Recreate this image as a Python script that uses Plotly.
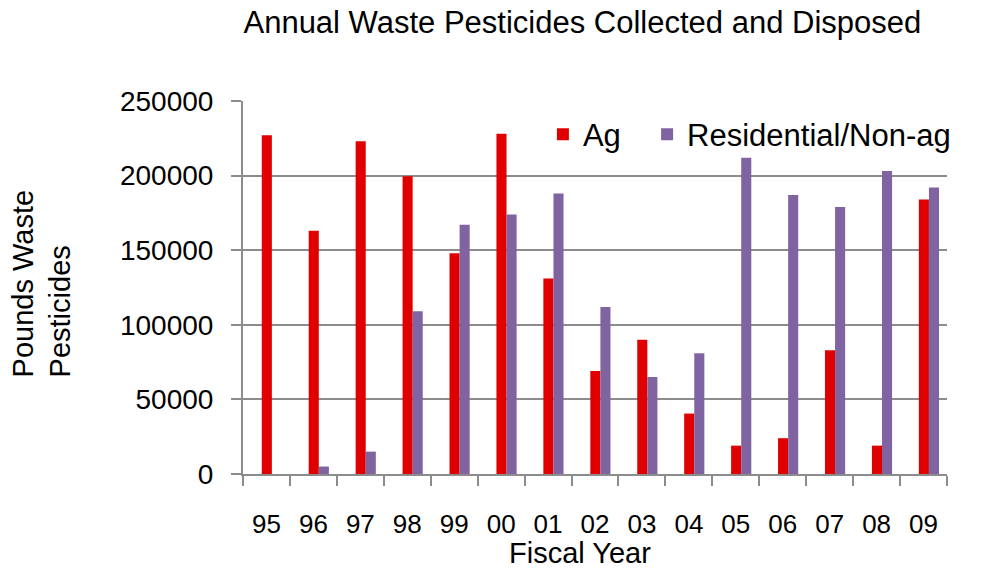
import plotly.graph_objects as go

years = ["95", "96", "97", "98", "99", "00", "01", "02", "03", "04", "05", "06", "07", "08", "09"]
ag = [227000, 163000, 223000, 199500, 148000, 228000, 131000, 69000, 90000, 40500, 19000, 24000, 83000, 19000, 184000]
residential = [0, 5000, 15000, 109000, 167000, 174000, 188000, 112000, 65000, 81000, 212000, 187000, 179000, 203000, 192000]
y_ticks = [0, 50000, 100000, 150000, 200000, 250000]

RED = "#E00000"
PURPLE = "#8064A2"
GRID = "#8C8C8C"
FONT = "Liberation Sans, Arial, sans-serif"

fig = go.Figure()
fig.add_trace(go.Bar(x=years, y=ag, name="Ag", marker=dict(color=RED, line=dict(width=0)),
                     width=0.215, offset=-0.1, legend="legend"))
fig.add_trace(go.Bar(x=years, y=residential, name="Residential/Non-ag",
                     marker=dict(color=PURPLE, line=dict(width=0)),
                     width=0.215, offset=0.115, legend="legend2"))

legend_common = dict(orientation="h", y=0.91, yanchor="middle",
                     font=dict(size=31, family=FONT), bgcolor="rgba(0,0,0,0)")

fig.update_layout(
    width=992, height=569,
    paper_bgcolor="white", plot_bgcolor="white",
    margin=dict(l=235, r=53, t=93, b=103),
    font=dict(family=FONT, color="black", size=28),
    title=dict(text="Annual Waste Pesticides Collected and Disposed",
               x=0.579, xanchor="center", xref="container",
               y=0.975, yanchor="middle", yref="container",
               font=dict(size=31, family=FONT, color="black")),
    showlegend=True,
    legend=dict(x=0.426, xanchor="left", **legend_common),
    legend2=dict(x=0.574, xanchor="left", **legend_common),
    annotations=[
        dict(text="Pounds Waste<br>Pesticides", xref="paper", yref="paper",
             x=-0.2855, y=0.511, xanchor="center", yanchor="middle", align="left",
             textangle=-90, showarrow=False, font=dict(size=29, family=FONT)),
        dict(text="Fiscal Year", xref="paper", yref="paper",
             x=0.479, y=-0.213, xanchor="center", yanchor="middle",
             showarrow=False, font=dict(size=29, family=FONT)),
    ],
)

fig.update_xaxes(
    type="category",
    showgrid=False,
    showline=True, linecolor=GRID, linewidth=2,
    ticks="outside", ticklen=10, tickcolor=GRID, tickwidth=2,
    tickson="boundaries",
    ticklabelstandoff=26,
    tickfont=dict(size=26, family=FONT),
    range=[-0.5, 14.5],
)

fig.update_yaxes(
    range=[0, 250000],
    tickvals=y_ticks,
    ticktext=[str(v) for v in y_ticks],
    showgrid=True, gridcolor=GRID, gridwidth=2,
    showline=True, linecolor=GRID, linewidth=2,
    ticks="outside", ticklen=10, tickcolor=GRID, tickwidth=2,
    zeroline=False,
    ticklabelstandoff=12,
    tickfont=dict(size=28, family=FONT),
)

fig.write_html("out.html")
